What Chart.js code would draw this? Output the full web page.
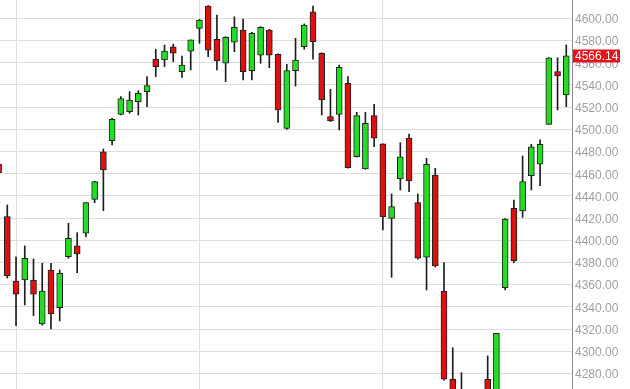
<!DOCTYPE html>
<html>
<head>
<meta charset="utf-8">
<script src="https://cdn.jsdelivr.net/npm/chart.js@4/dist/chart.umd.min.js"></script>
<style>
html,body{margin:0;padding:0;background:#fff;}
#wrap{width:630px;height:389px;}
</style>
</head>
<body>
<div id="wrap"><canvas id="c" width="630" height="389"></canvas></div>
<script>
// Session index (0 = partially visible candle at the left edge)
const sessions = Array.from({length: 66}, (_, i) => i);
const opens  = [4468.7,4421.3,4363.3,4364.2,4364.2,4324.6,4373.2,4339.3,4385.2,4394.9,4406.3,4436.9,4479.8,4489.7,4513.5,4515.9,4524.9,4533.9,4563.3,4562.4,4574.4,4551.9,4570.5,4591.0,4611.1,4581.1,4559.5,4578.4,4589.5,4552.8,4566.9,4589.5,4567.6,4500.9,4552.8,4574.4,4605.9,4568.5,4511.4,4513.5,4541.4,4475.3,4464.2,4512.3,4486.8,4419.8,4455.2,4491.9,4433.9,4384.7,4458.8,4354.3,4274.8,4250.0,4228.0,4240.0,4274.8,4255.0,4357.3,4428.8,4426.4,4458.2,4468.5,4504.5,4551.9,4530.9];
const highs  = [4470.0,4431.8,4385.2,4394.9,4383.2,4379.3,4379.3,4373.2,4415.3,4406.8,4434.0,4453.0,4482.3,4509.9,4529.4,4533.9,4534.8,4547.4,4572.1,4576.0,4576.8,4566.0,4580.5,4599.0,4611.5,4603.0,4583.5,4601.4,4599.4,4587.4,4592.5,4590.0,4568.0,4558.6,4582.0,4595.0,4611.0,4569.0,4536.0,4557.9,4547.4,4515.3,4515.3,4522.5,4487.0,4441.7,4487.9,4495.8,4441.7,4473.9,4464.9,4379.8,4303.2,4280.7,4260.0,4262.0,4295.8,4316.2,4419.5,4436.3,4475.9,4486.5,4490.4,4564.5,4564.5,4576.0];
const lows   = [4455.0,4366.0,4323.1,4341.7,4332.1,4323.5,4320.1,4327.3,4383.8,4370.8,4403.2,4433.9,4426.7,4485.9,4513.0,4514.4,4512.9,4520.4,4547.4,4556.4,4560.9,4546.8,4553.4,4577.5,4565.4,4553.4,4542.9,4569.9,4544.4,4544.4,4559.5,4555.5,4506.3,4500.0,4539.0,4572.1,4563.1,4512.9,4507.0,4499.4,4465.0,4475.0,4464.0,4484.3,4409.3,4366.7,4445.3,4443.8,4383.0,4355.2,4376.0,4274.0,4225.0,4215.0,4205.0,4212.0,4240.0,4248.0,4355.2,4379.8,4420.7,4445.3,4449.2,4504.5,4517.4,4520.4];
const closes = [4460.9,4367.8,4351.4,4383.8,4351.4,4354.3,4333.6,4370.3,4401.8,4387.7,4433.9,4452.8,4463.3,4509.0,4527.6,4526.4,4532.4,4539.3,4556.4,4570.5,4568.5,4557.9,4580.5,4598.5,4571.4,4561.5,4582.9,4591.9,4551.9,4586.5,4591.9,4566.9,4517.4,4552.8,4562.4,4594.0,4578.9,4526.4,4507.5,4555.9,4465.4,4512.3,4505.4,4491.9,4421.3,4430.3,4475.3,4453.4,4383.8,4468.5,4376.8,4274.8,4238.0,4232.0,4245.0,4252.0,4250.0,4316.2,4419.2,4381.4,4452.8,4484.3,4486.5,4564.5,4548.0,4566.14];
const yTickValues = [4280,4300,4320,4340,4360,4380,4400,4420,4440,4460,4480,4500,4520,4540,4560,4580,4600];
const xGridSessions = [2,23,44];

const UP = '#22dd22', DOWN = '#e01010', EDGE = '#1e1e1e';
const bodyColors = opens.map((o,i) => closes[i] >= o ? UP : DOWN);

const bodyData = sessions.map(i => ({x: i, y: [opens[i], closes[i]]}));
const wickData = sessions.map(i => ({x: i, y: [lows[i], highs[i]]}));

const lastPricePlugin = {
  id: 'lastPrice',
  afterDraw(chart) {
    const ctx = chart.ctx;
    const ys = chart.scales.y;
    const v = closes[closes.length - 1];
    const py = Math.round(ys.getPixelForValue(v));
    const left = chart.chartArea.right + 1;
    ctx.save();
    ctx.fillStyle = '#e8101a';
    ctx.fillRect(left, py - 6.5, 47, 13);
    ctx.fillStyle = '#ffffff';
    ctx.font = '12px "Liberation Sans", Arial, sans-serif';
    ctx.textBaseline = 'middle';
    ctx.textAlign = 'left';
    ctx.fillText(v.toFixed(2), left + 2, py + 0.5);
    ctx.restore();
  }
};

new Chart(document.getElementById('c'), {
  type: 'bar',
  data: {
    datasets: [
      {
        label: 'body',
        data: bodyData,
        backgroundColor: bodyColors,
        borderColor: EDGE,
        borderWidth: 1,
        borderSkipped: false,
        barThickness: 6,
        grouped: false
      },
      {
        label: 'wick',
        data: wickData,
        backgroundColor: EDGE,
        borderWidth: 0,
        barThickness: 1,
        grouped: false
      }
    ]
  },
  options: {
    responsive: false,
    animation: false,
    events: [],
    layout: {padding: 0},
    plugins: {legend: {display: false}, tooltip: {enabled: false}, title: {display: false}},
    scales: {
      x: {
        type: 'linear',
        min: 0.164,
        max: 65.655,
        offset: false,
        afterBuildTicks: (s) => { s.ticks = xGridSessions.map(v => ({value: v})); },
        afterFit: (s) => { s.height = 0; s.paddingLeft = 0; s.paddingRight = 0; s.paddingTop = 0; s.paddingBottom = 0; },
        grid: {color: '#dddddd', lineWidth: 1, drawTicks: false, offset: false},
        border: {display: false},
        ticks: {display: false}
      },
      y: {
        type: 'linear',
        position: 'right',
        min: 4266,
        max: 4616.5,
        afterBuildTicks: (s) => { s.ticks = yTickValues.map(v => ({value: v})); },
        afterFit: (s) => { s.width = 58; s.paddingTop = 0; s.paddingBottom = 0; s.paddingLeft = 0; s.paddingRight = 0; },
        grid: {color: '#dddddd', lineWidth: 1, drawTicks: false},
        border: {display: true, color: '#8c8c8c', width: 1},
        ticks: {
          color: '#a0a0a0',
          padding: 3,
          labelOffset: 1.5,
          font: {family: '"Liberation Sans", Arial, sans-serif', size: 12},
          callback: (v) => Number(v).toFixed(2)
        }
      }
    }
  },
  plugins: [lastPricePlugin]
});
</script>
</body>
</html>
